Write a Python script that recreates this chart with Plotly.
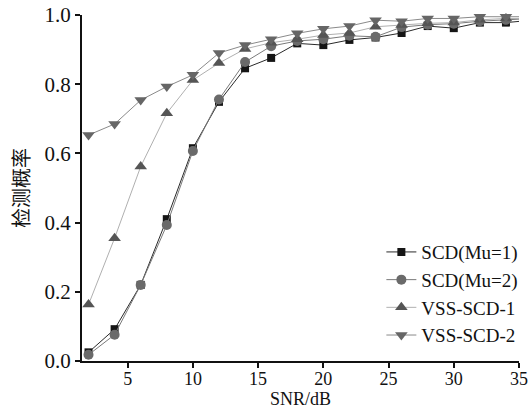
import plotly.graph_objects as go

snr = [2, 4, 6, 8, 10, 12, 14, 16, 18, 20, 22, 24, 26, 28, 30, 32, 34, 36]

scd_mu1 = [0.025, 0.092, 0.220, 0.410, 0.615, 0.749, 0.846, 0.876, 0.918, 0.913,
           0.928, 0.935, 0.948, 0.968, 0.962, 0.978, 0.978, 0.985]
scd_mu2 = [0.018, 0.076, 0.220, 0.393, 0.607, 0.756, 0.864, 0.910, 0.925, 0.930,
           0.940, 0.937, 0.965, 0.972, 0.975, 0.982, 0.986, 0.990]
vss_scd1 = [0.163, 0.355, 0.562, 0.716, 0.812, 0.861, 0.902, 0.920, 0.930, 0.942,
            0.948, 0.966, 0.971, 0.976, 0.978, 0.986, 0.990, 0.990]
vss_scd2 = [0.653, 0.685, 0.754, 0.793, 0.827, 0.890, 0.913, 0.930, 0.947, 0.960,
            0.968, 0.985, 0.982, 0.990, 0.990, 0.995, 0.995, 0.995]

names = ["SCD(Mu=1)", "SCD(Mu=2)", "VSS-SCD-1", "VSS-SCD-2"]
series = [scd_mu1, scd_mu2, vss_scd1, vss_scd2]
symbols = ["square", "circle", "triangle-up", "triangle-down"]
marker_colors = ["#151515", "#6a6a6a", "#555555", "#666666"]
line_colors = ["#2a2a2a", "#7a7a7a", "#b0b0b0", "#8a8a8a"]
sizes = [8, 10, 11, 11]

fig = go.Figure()
for name, ys, sym, mc, lc, sz in zip(names, series, symbols, marker_colors, line_colors, sizes):
    fig.add_trace(go.Scatter(
        x=snr, y=ys, name=name, mode="lines+markers",
        line=dict(color=lc, width=1),
        marker=dict(symbol=sym, color=mc, size=sz, line=dict(width=0)),
        cliponaxis=False,
    ))

serif = "Liberation Serif, Times New Roman, serif"
fig.update_layout(
    width=532, height=411,
    margin=dict(l=82, r=13, t=15, b=50, autoexpand=False),
    paper_bgcolor="white", plot_bgcolor="white",
    font=dict(family=serif, size=20, color="#111111"),
    showlegend=True,
    legend=dict(
        x=1.01, y=0.02, xanchor="right", yanchor="bottom",
        bgcolor="rgba(0,0,0,0)", borderwidth=0,
        font=dict(family=serif, size=19, color="#111111"),
        itemwidth=30, tracegroupgap=0,
    ),
    xaxis=dict(
        range=[1.5, 35], tickmode="array", tickvals=[5, 10, 15, 20, 25, 30, 35],
        showline=True, linecolor="#111111", linewidth=2,
        ticks="outside", ticklen=5, tickwidth=1.5, tickcolor="#111111",
        showgrid=False, zeroline=False, automargin=False,
        ticklabelstandoff=-5,
        tickfont=dict(family=serif, size=18),
    ),
    yaxis=dict(
        range=[0, 1], tickmode="array", tickvals=[0, 0.2, 0.4, 0.6, 0.8, 1.0],
        tickformat=".1f",
        showline=True, linecolor="#111111", linewidth=2,
        ticks="outside", ticklen=5, tickwidth=1.5, tickcolor="#111111",
        showgrid=False, zeroline=False, automargin=False,
        title=dict(text="检测概率", font=dict(family="Noto Sans CJK SC", size=20), standoff=10),
        tickfont=dict(family=serif, size=21),
    ),
    annotations=[dict(
        text="SNR/dB", xref="paper", yref="paper", x=0.5, y=-0.1445,
        xanchor="center", yanchor="bottom", showarrow=False,
        font=dict(family=serif, size=18, color="#111111"),
    )],
)

fig.write_html("out.html")
